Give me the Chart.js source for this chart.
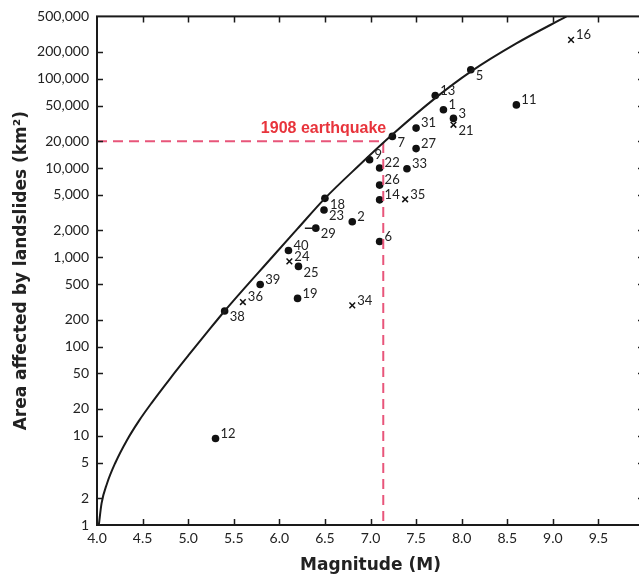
<!DOCTYPE html>
<html>
<head>
<meta charset="utf-8">
<script src="https://cdn.jsdelivr.net/npm/chart.js@4.4.1/dist/chart.umd.min.js"></script>
<style>
  html, body { margin: 0; padding: 0; background: #fff; overflow: hidden; }
  #wrap { width: 650px; height: 578px; }
</style>
</head>
<body>
<div id="wrap"><canvas id="quakeChart" width="650" height="578"></canvas></div>
<script>
// --- data ---
const xTicks = [4.0, 4.5, 5.0, 5.5, 6.0, 6.5, 7.0, 7.5, 8.0, 8.5, 9.0, 9.5, 10.0];
const yTicks = [1, 2, 5, 10, 20, 50, 100, 200, 500, 1000, 2000, 5000, 10000, 20000, 50000, 100000, 200000, 500000];

// earthquakes plotted as dots
const dotIds  = ['1', '2', '3', '5', '6', '7', '9', '11', '12', '13', '14', '18', '19', '22', '23', '25', '26', '27', '29', '31', '33', '38', '39', '40'];
const dotMag  = [7.80, 6.80, 7.91, 8.10, 7.10, 7.24, 6.99, 8.60, 5.30, 7.71, 7.10, 6.50, 6.20, 7.10, 6.49, 6.21, 7.10, 7.50, 6.40, 7.50, 7.40, 5.40, 5.79, 6.10];
const dotArea = [45000, 2500, 36000, 126000, 1500, 22600, 12400, 51000, 9.3, 65000, 4400, 4570, 346, 10000, 3390, 790, 6440, 16500, 2120, 28000, 9800, 250, 495, 1190];

// earthquakes plotted as x
const crossIds  = ['16', '21', '24', '34', '35', '36'];
const crossMag  = [9.20, 7.91, 6.11, 6.80, 7.38, 5.60];
const crossArea = [273000, 30500, 900, 289, 4460, 315];

// range bar on event 29
const bar29Mag = [6.28, 6.40];
const bar29Area = [2120, 2120];

// upper-bound envelope curve
const curveMag  = [4.02, 4.05, 4.11, 4.20, 4.33, 4.46, 4.60, 4.80, 5.00, 5.20, 5.40, 5.92, 6.20, 6.50, 6.87, 7.24, 7.71, 8.10, 8.60, 9.15];
const curveArea = [1, 1.75, 2.92, 4.95, 8.98, 14.7, 23.4, 43.5, 78.8, 141, 250, 1000, 2090, 4570, 10600, 23700, 60700, 120300, 249000, 500000];

// 1908 earthquake reference
const quake1908Mag = 7.14;
const quake1908Area = 20000;
const quake1908Label = '1908 earthquake';

// labels that sit below-right of their marker instead of above-right
const labelsBelow = ['5', '7', '18', '21', '23', '25', '29', '38'];

const zip = (xs, ys) => xs.map((v, i) => ({ x: v, y: ys[i] }));

Chart.defaults.font.family = "Lato, 'DejaVu Sans', sans-serif";
Chart.defaults.color = '#222';

const INK = '#1a1a1a';
const TITLE_FONT = "'DejaVu Sans', sans-serif";

// frame, inward ticks, point numbers, red label
const decorations = {
    id: 'decorations',
    afterDatasetsDraw(chart) {
        const { ctx, chartArea: a, scales: { x, y } } = chart;
        ctx.save();
        ctx.strokeStyle = INK;
        ctx.lineWidth = 1.5;
        ctx.beginPath();
        x.ticks.forEach(t => {
            if (t.value <= x.min || t.value >= x.max) return;
            const px = Math.round(x.getPixelForValue(t.value)) + 0.5;
            ctx.moveTo(px, a.bottom); ctx.lineTo(px, a.bottom - 6);
            ctx.moveTo(px, a.top); ctx.lineTo(px, a.top + 6);
        });
        y.ticks.forEach(t => {
            if (t.value <= y.min || t.value >= y.max) return;
            const py = Math.round(y.getPixelForValue(t.value)) + 0.5;
            ctx.moveTo(a.left, py); ctx.lineTo(a.left + 6, py);
            ctx.moveTo(a.right, py); ctx.lineTo(a.right - 6, py);
        });
        ctx.stroke();

        ctx.lineWidth = 2;
        ctx.strokeRect(a.left, a.top, a.right - a.left, a.bottom - a.top);

        // event numbers
        ctx.fillStyle = '#222';
        ctx.font = "13px Lato, 'DejaVu Sans', sans-serif";
        ctx.textAlign = 'left';
        ctx.textBaseline = 'middle';
        chart.data.datasets.forEach((ds, i) => {
            if (!ds.ids) return;
            chart.getDatasetMeta(i).data.forEach((el, j) => {
                const id = ds.ids[j];
                const below = labelsBelow.includes(id);
                ctx.fillText(id, el.x + 5, el.y + (below ? 6 : -5));
            });
        });

        // 1908 label
        ctx.fillStyle = '#e8343c';
        ctx.font = "bold 16px 'Liberation Sans', Arial, sans-serif";
        ctx.textAlign = 'right';
        ctx.textBaseline = 'alphabetic';
        ctx.fillText(quake1908Label, x.getPixelForValue(quake1908Mag) + 3, y.getPixelForValue(quake1908Area) - 8);
        ctx.restore();
    }
};

new Chart(document.getElementById('quakeChart').getContext('2d'), {
    type: 'scatter',
    data: {
        datasets: [
            {
                type: 'line', label: 'envelope', data: zip(curveMag, curveArea),
                borderColor: INK, borderWidth: 2, pointRadius: 0,
                cubicInterpolationMode: 'monotone', fill: false
            },
            {
                type: 'line', label: '1908',
                data: [{ x: xTicks[0], y: quake1908Area }, { x: quake1908Mag, y: quake1908Area }, { x: quake1908Mag, y: yTicks[0] }],
                borderColor: '#e8557a', borderWidth: 2, borderDash: [10, 6],
                pointRadius: 0, tension: 0, fill: false
            },
            {
                type: 'line', label: 'range 29', data: zip(bar29Mag, bar29Area),
                borderColor: INK, borderWidth: 1.5, pointRadius: 0, fill: false
            },
            {
                label: 'dots', ids: dotIds, data: zip(dotMag, dotArea),
                pointStyle: 'circle', pointRadius: 3.8,
                backgroundColor: '#111', borderColor: '#111', borderWidth: 0
            },
            {
                label: 'crosses', ids: crossIds, data: zip(crossMag, crossArea),
                pointStyle: 'crossRot', pointRadius: 4,
                borderColor: '#111', borderWidth: 1.5
            }
        ]
    },
    options: {
        responsive: false,
        animation: false,
        layout: { padding: { top: 14, right: 6, left: 0, bottom: 0 } },
        plugins: { legend: { display: false }, tooltip: { enabled: false } },
        scales: {
            x: {
                type: 'linear', min: xTicks[0], max: xTicks[xTicks.length - 1],
                grid: { display: false, drawTicks: false },
                border: { display: false },
                afterBuildTicks: (scale) => { scale.ticks = xTicks.map(v => ({ value: v })); },
                afterFit: (scale) => { scale.height = 53; },
                ticks: {
                    autoSkip: false, maxRotation: 0, padding: 5,
                    font: { size: 14 },
                    callback: (v) => v >= 10 ? '' : Number(v).toFixed(1)
                },
                title: {
                    display: true, text: 'Magnitude (M)',
                    font: { family: TITLE_FONT, size: 17, weight: 'bold' }, padding: { top: 0, bottom: 2 }
                }
            },
            y: {
                type: 'logarithmic', min: yTicks[0], max: yTicks[yTicks.length - 1],
                grid: { display: false, drawTicks: false },
                border: { display: false },
                afterBuildTicks: (scale) => { scale.ticks = yTicks.map(v => ({ value: v })); },
                afterFit: (scale) => { scale.width = 97; },
                ticks: {
                    autoSkip: false, padding: 8,
                    font: { size: 14 },
                    callback: (v) => Number(v).toLocaleString('en-US')
                },
                title: {
                    display: true, text: 'Area affected by landslides (km²)',
                    font: { family: TITLE_FONT, size: 17, weight: 'bold' }, padding: { top: 11, bottom: 0 }
                }
            }
        }
    },
    plugins: [decorations]
});
</script>
</body>
</html>
